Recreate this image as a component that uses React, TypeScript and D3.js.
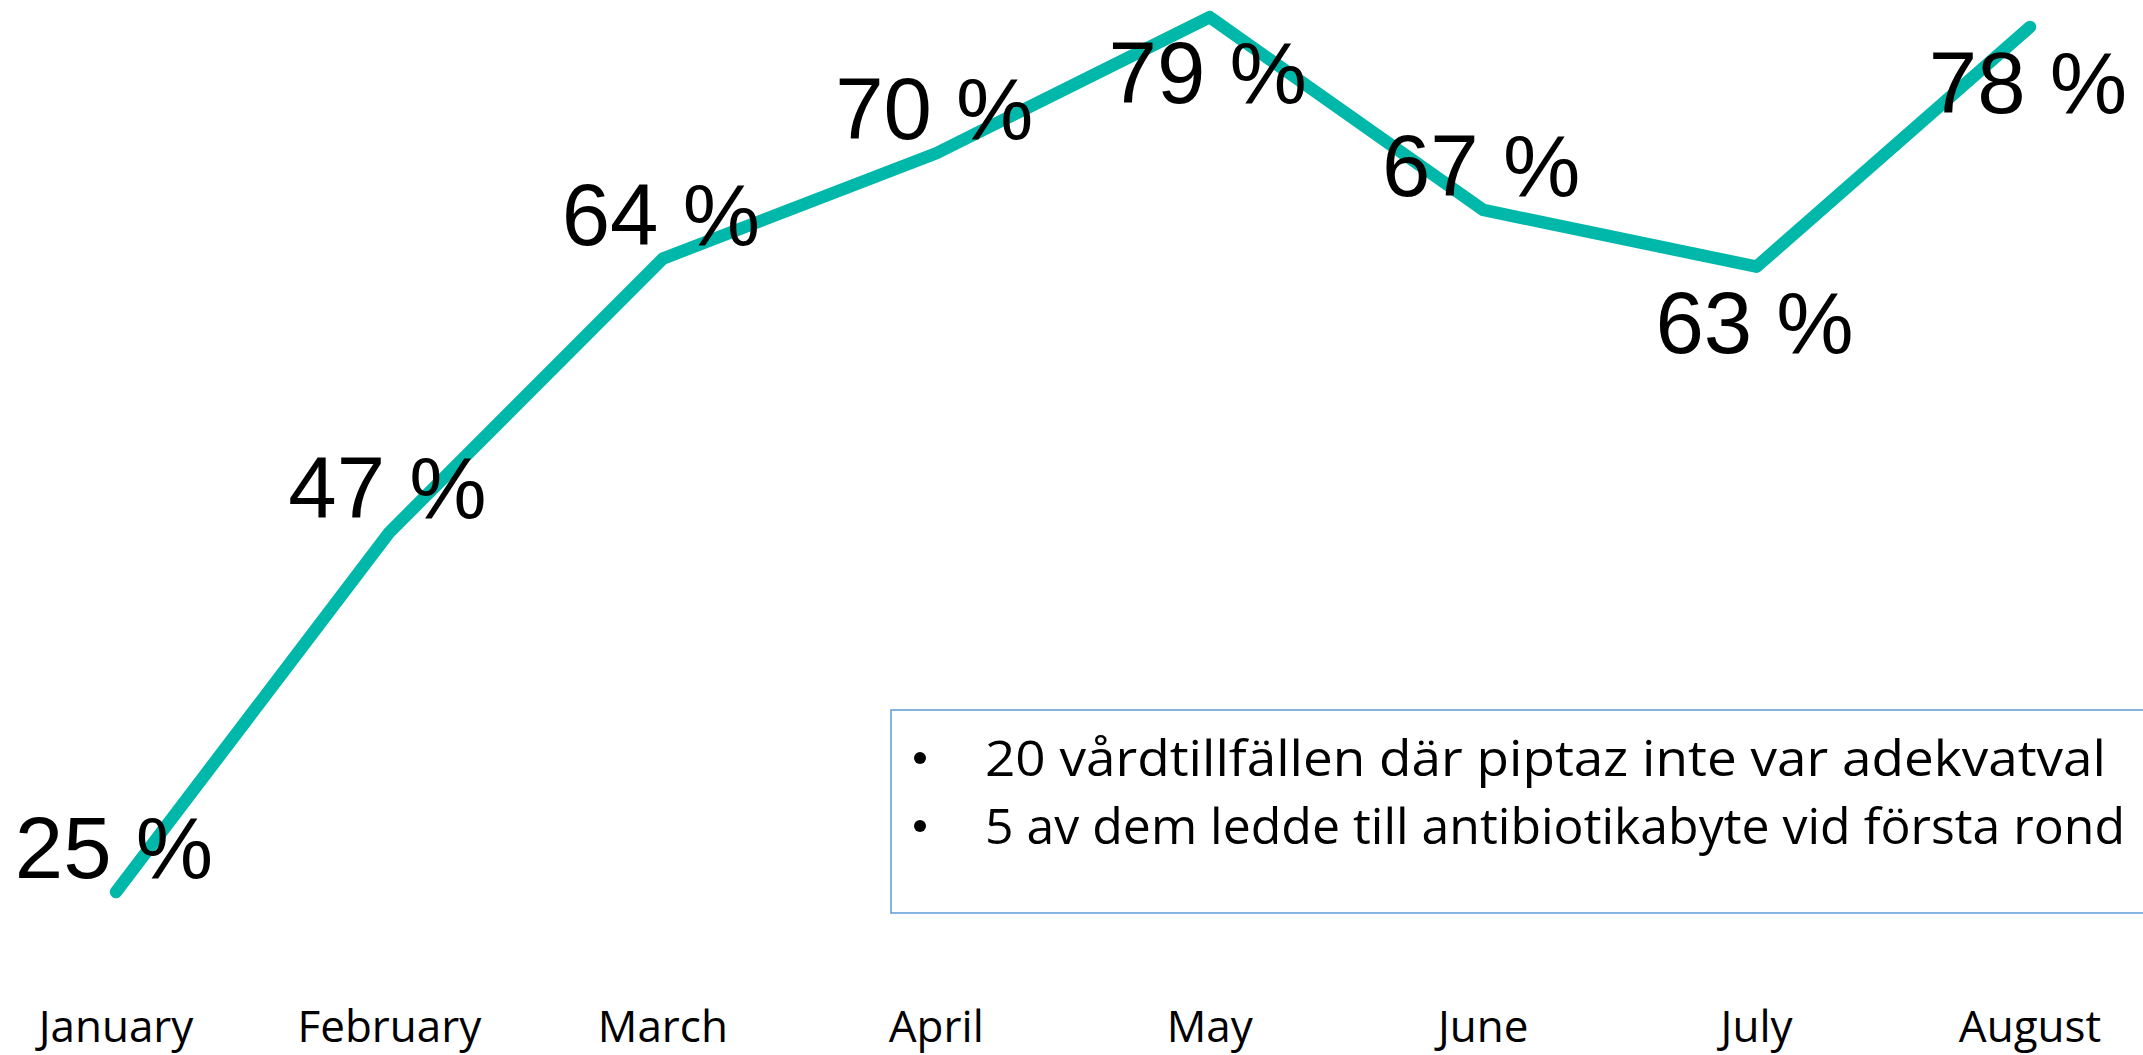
import React from "react";
import * as d3 from "d3";

const months = ["January", "February", "March", "April", "May", "June", "July", "August"];
const shares = [24.6, 46.8, 63.7, 70.2, 78.6, 66.7, 63.2, 78.0];
const labelSide = ["above", "above", "above", "above", "below", "above", "below", "below"];
const notes = [
  "20 vårdtillfällen där piptaz inte var adekvatval",
  "5 av dem ledde till antibiotikabyte vid första rond",
];

const W = 2143;
const H = 1055;
const NOTE_WIDTHS = [1121, 1140];

export default function App() {
  const x = d3.scalePoint<string>().domain(months).range([116, 2030]);
  const y = d3.scaleLinear().domain([20, 80]).range([966.5, -5.5]);
  const data = months.map((m, i) => ({ m, v: shares[i], side: labelSide[i] }));
  const line = d3
    .line<{ m: string; v: number }>()
    .x((d) => x(d.m)!)
    .y((d) => y(d.v));

  return (
    <svg
      width={W}
      height={H}
      style={{ position: "absolute", left: 0, top: 0, background: "#fff" }}
    >
      <rect x={0} y={0} width={W} height={H} fill="#fff" />
      <path
        d={line(data)!}
        fill="none"
        stroke="#00B8A9"
        strokeWidth={12.5}
        strokeLinecap="round"
        strokeLinejoin="round"
      />
      {data.map((d) => (
        <text
          key={"l" + d.m}
          x={x(d.m)! - 2}
          y={y(d.v) + (d.side === "above" ? -14 : 86)}
          textAnchor="middle"
          fontFamily="'Liberation Sans', Arial, sans-serif"
          fontSize={87}
          fill="#000"
        >
          {Math.round(d.v) + " %"}
        </text>
      ))}
      {months.map((m) => (
        <text
          key={"x" + m}
          x={x(m)!}
          y={1042}
          textAnchor="middle"
          fontFamily="'Open Sans', 'Noto Sans', sans-serif"
          fontSize={44}
          fill="#000"
        >
          {m}
        </text>
      ))}
      <rect
        x={891}
        y={710}
        width={1400}
        height={203}
        fill="#fff"
        stroke="#5B9BD5"
        strokeWidth={1.5}
      />
      {notes.map((t, i) => (
        <g key={"n" + i}>
          <circle cx={920} cy={776 + i * 68 - 18} r={6} fill="#000" />
          <text
            x={985}
            y={776 + i * 68}
            fontFamily="'Open Sans', 'Noto Sans', sans-serif"
            fontSize={50}
            textLength={NOTE_WIDTHS[i]}
            lengthAdjust="spacingAndGlyphs"
            fill="#000"
          >
            {t}
          </text>
        </g>
      ))}
    </svg>
  );
}
